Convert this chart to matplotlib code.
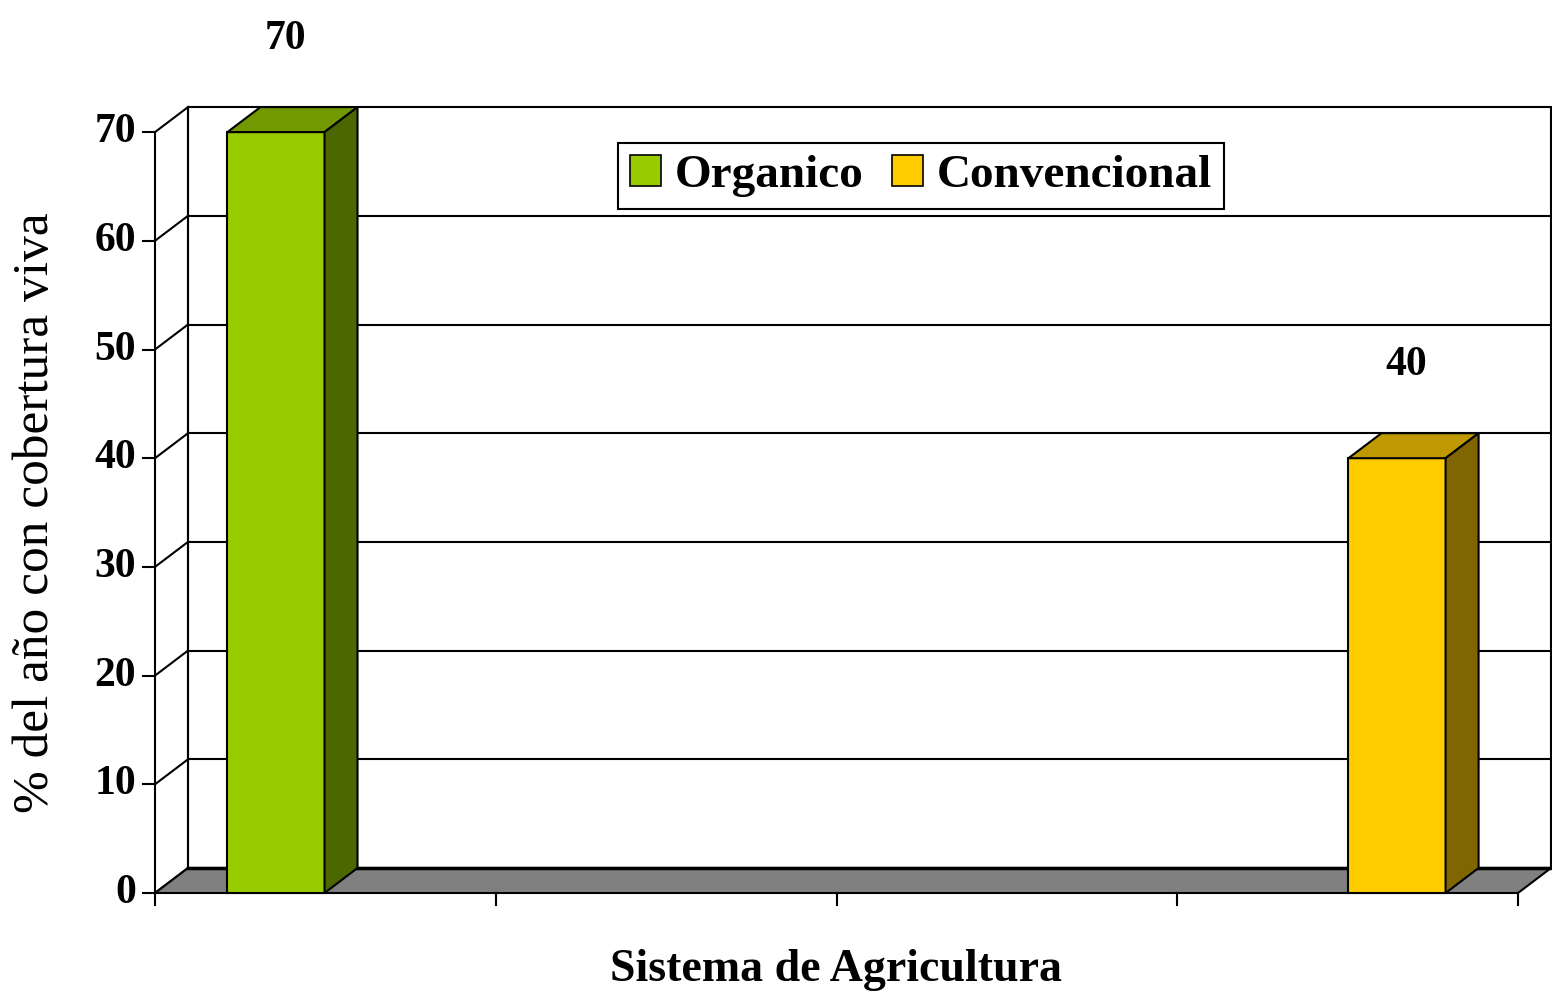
"""
3D-style bar chart: % del año con cobertura viva por sistema de agricultura
"""
import matplotlib.pyplot as plt
from matplotlib.patches import Polygon, Rectangle, Patch

plt.rcParams["font.family"] = ["Liberation Serif", "DejaVu Serif"]

# Data
series = ["Organico", "Convencional"]
values = [70, 40]
positions = [0.355, 3.645]
yticks = [0, 10, 20, 30, 40, 50, 60, 70]
xticks = [0, 1, 2, 3, 4]

front_colors = ["#99CC00", "#FFCC00"]
top_colors = ["#739900", "#BF9900"]
side_colors = ["#4C6600", "#806600"]

# Geometry (pixel scale of the original picture)
px_x = 340.75  # pixels per x unit
px_y = 10.87  # pixels per y unit
dx = 33 / px_x
dy = 25 / px_y
bar_w = 0.285
ymax = 70
xmax = 4

fig = plt.figure(figsize=(15.52, 9.92), dpi=100)
ax = fig.add_axes([0, 0, 1, 1])
ax.set_xlim(-155 / px_x, (1552 - 155) / px_x)
ax.set_ylim(-(992 - 893) / px_y, 893 / px_y)
ax.axis("off")

lw = 1.5
# back wall
ax.add_patch(Rectangle((dx, dy), xmax, ymax, facecolor="white",
                       edgecolor="black", lw=lw, zorder=1))
for v in yticks:
    if 0 < v < ymax:
        ax.plot([dx, xmax + dx], [v + dy, v + dy], color="black", lw=lw, zorder=1)
    # left wall
    ax.plot([0, dx], [v, v + dy], color="black", lw=lw, zorder=1)
ax.plot([dx, dx], [dy, ymax + dy], color="black", lw=lw, zorder=1)
ax.plot([0, 0], [0, ymax], color="black", lw=lw, zorder=1)

# floor
ax.add_patch(Polygon([(0, 0), (xmax, 0), (xmax + dx, dy), (dx, dy)],
                     closed=True, facecolor="#808080", edgecolor="black",
                     lw=lw, zorder=2))
ax.plot([dx, xmax + dx], [dy, dy], color="black", lw=2.5, zorder=2)

# ticks
tlx = 12 / px_x
tly = 12 / px_y
for v in yticks:
    ax.plot([-tlx, 0], [v, v], color="black", lw=lw, zorder=3)
    ax.text(-19 / px_x, v, str(v), ha="right", va="center",
            fontsize=30, fontweight="bold")
for x in xticks:
    ax.plot([x, x], [0, -tly], color="black", lw=lw, zorder=3)

# bars
for pos, v, fc, tc, sc in zip(positions, values, front_colors, top_colors, side_colors):
    x0 = pos - bar_w / 2
    x1 = pos + bar_w / 2
    ax.add_patch(Rectangle((x0, 0), bar_w, v, facecolor=fc,
                           edgecolor="black", lw=lw, zorder=4))
    ax.add_patch(Polygon([(x0, v), (x1, v), (x1 + dx, v + dy), (x0 + dx, v + dy)],
                         closed=True, facecolor=tc, edgecolor="black", lw=lw, zorder=4))
    ax.add_patch(Polygon([(x1, 0), (x1 + dx, dy), (x1 + dx, v + dy), (x1, v)],
                         closed=True, facecolor=sc, edgecolor="black", lw=lw, zorder=4))
    ax.text(pos + 0.027, v + dy + 6.3, str(v), ha="center", va="center",
            fontsize=30, fontweight="bold")

# axis titles
ax.text(xmax / 2, -7.1, "Sistema de Agricultura", ha="center", va="center",
        fontsize=33, fontweight="bold")
ax.text(-119 / px_x, 35, "% del año con cobertura viva", ha="center",
        va="center", rotation=90, fontsize=37)

# legend
handles = [Patch(facecolor=c, edgecolor="black", lw=1.2) for c in front_colors]
leg = ax.legend(handles, series, loc="center", bbox_to_anchor=(921 / 1552, 1 - 176 / 992),
                ncol=2, frameon=True, fancybox=False, edgecolor="black", framealpha=1,
                prop={"size": 34, "weight": "bold"}, handlelength=0.65,
                handleheight=0.65, handletextpad=0.3, columnspacing=0.6,
                borderpad=0.25, borderaxespad=0)
leg.get_frame().set_linewidth(1.5)
leg.set_zorder(6)

plt.savefig("out.png", dpi=100)
